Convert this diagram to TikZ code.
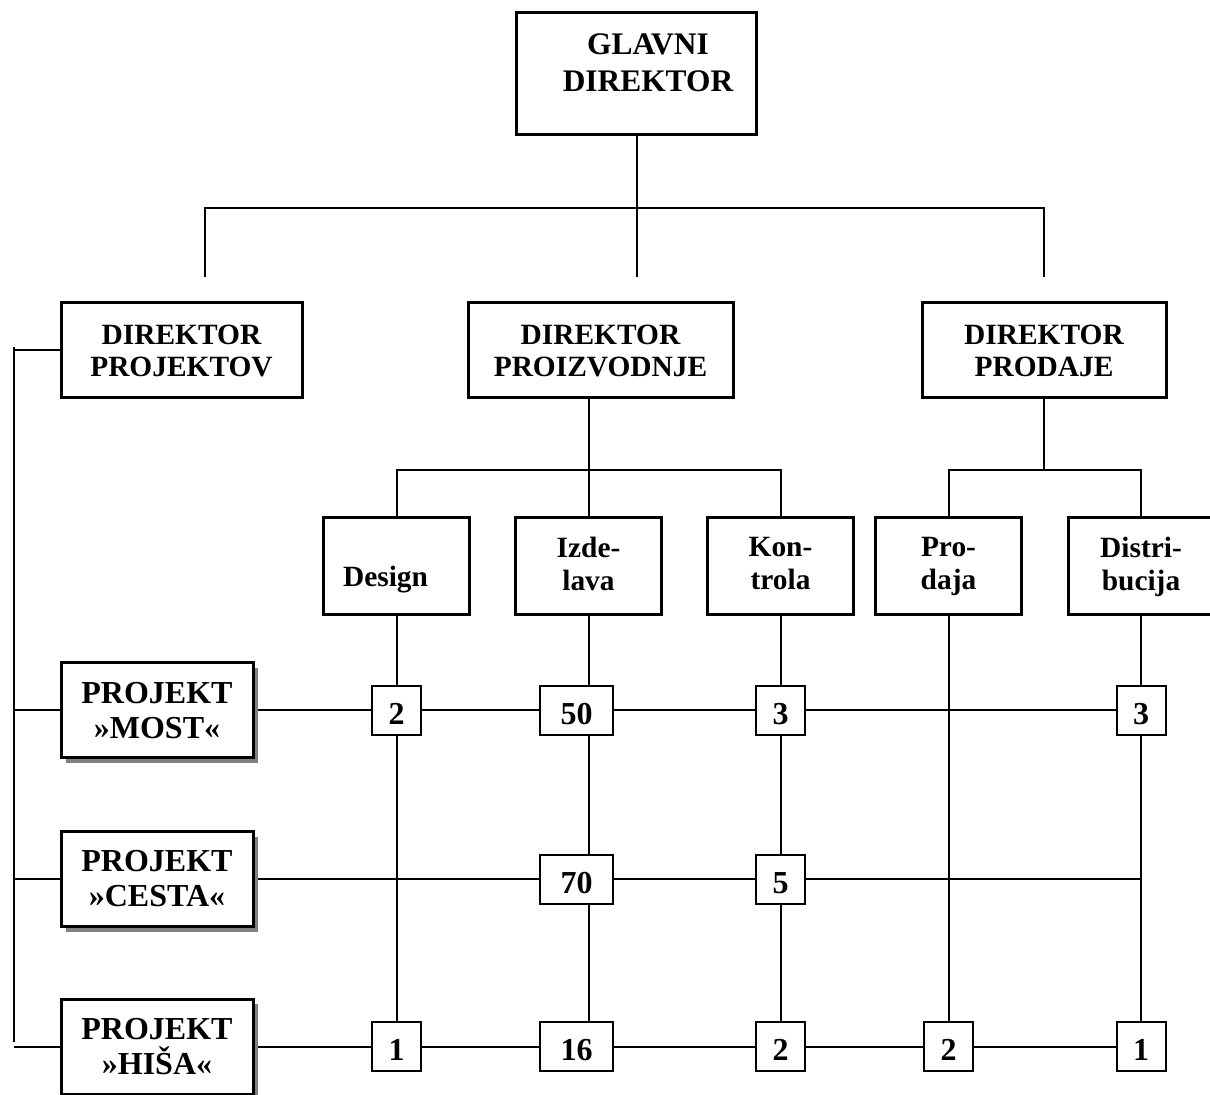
\documentclass[tikz,border=0pt]{standalone}
\usepackage{fontspec}
\setmainfont{Liberation Serif}
\usetikzlibrary{backgrounds,shadows}

\begin{document}
\begin{tikzpicture}[x=0.5pt,y=-0.5pt,
	box/.style={draw,line width=1.5pt,fill=white,inner sep=0pt,align=center,font=\bfseries\fontsize{14.7}{16}\selectfont},
	chef/.style={box,minimum width=120pt,minimum height=61pt},
	dir/.style={box,minimum height=47.5pt},
	oddelek/.style={box,minimum width=73pt,minimum height=48.5pt,text depth=3pt,font=\bfseries\fontsize{14.7}{16.5}\selectfont},
	proj/.style={box,minimum width=96pt,minimum height=47.5pt,font=\bfseries\fontsize{16}{17.5}\selectfont,
		drop shadow={shadow xshift=2.5pt,shadow yshift=-2.5pt,fill=black!50,opacity=1}},
	num/.style={draw,line width=1pt,fill=white,inner sep=0pt,minimum width=24.5pt,minimum height=24.5pt,
		text height=14.3pt,text depth=0pt,font=\bfseries\fontsize{16}{18}\selectfont},
	num2/.style={num,minimum width=36.5pt},
	conn/.style={line width=1pt},
	]
	\useasboundingbox (0,0) rectangle (1210,1095);
	
	% glavni direktor
	\node[chef] (glavni) at (636.5,74) {};
	\node[font=\bfseries\fontsize{15.7}{18.5}\selectfont,align=center] (glavni-txt) at ([xshift=5.75pt,yshift=5.5pt]glavni.center) {GLAVNI\\DIREKTOR};
	
	% direktorji
	\node[dir,minimum width=120.5pt] (dproj) at (181.5,350.5) {DIREKTOR\\PROJEKTOV};
	\node[dir,minimum width=132.5pt] (dproizv) at (600.5,350.5) {DIREKTOR\\PROIZVODNJE};
	\node[dir,minimum width=122pt] (dprod) at (1044,350.5) {DIREKTOR\\PRODAJE};
	
	% oddelki
	\node[oddelek,text height=20.5pt,text depth=0pt] (design) at (396.5,566.5) {Design\kern11pt};
	\node[oddelek] (izdelava) at (588.5,566.5) {Izde-\\lava};
	\node[oddelek] (kontrola) at (780.5,566.5) {Kon-\\trola};
	\node[oddelek] (prodaja) at (948.5,566.5) {Pro-\\daja};
	\node[oddelek] (distrib) at (1141,566.5) {Distri-\\bucija};
	
	% projekti
	\node[proj] (most) at (157,710.5) {PROJEKT\\»MOST«};
	\node[proj] (cesta) at (157,879) {PROJEKT\\»CESTA«};
	\node[proj] (hisa) at (157,1046.5) {PROJEKT\\»HIŠA«};
	
	% stevilo ljudi
	\node[num] (most-des) at (396.5,710.5) {2};
	\node[num2] (most-izd) at (576.5,710.5) {50};
	\node[num] (most-kon) at (780.5,710.5) {3};
	\node[num] (most-dis) at (1141,710.5) {3};
	\node[num2] (cesta-izd) at (576.5,879) {70};
	\node[num] (cesta-kon) at (780.5,879) {5};
	\node[num] (hisa-des) at (396.5,1046.5) {1};
	\node[num2] (hisa-izd) at (576.5,1046.5) {16};
	\node[num] (hisa-kon) at (780.5,1046.5) {2};
	\node[num] (hisa-pro) at (948.5,1046.5) {2};
	\node[num] (hisa-dis) at (1141,1046.5) {1};
	
	% linija vodenja
	\coordinate (bus1) at (636.5,208);
	\coordinate (k1) at (205,277);
	\coordinate (k2) at (636.5,277);
	\coordinate (k3) at (1044,277);
	\draw[conn] (glavni.south) -- (k2);
	\draw[conn] (k1) |- (bus1) -| (k3);
	
	\coordinate (bus2) at (588.5,470);
	\draw[conn] (dproizv.south -| izdelava) -- (izdelava.north);
	\draw[conn] (design.north) |- (bus2) -| (kontrola.north);
	
	\coordinate (bus3) at (1044,470);
	\draw[conn] (dprod.south) -- (bus3);
	\draw[conn] (prodaja.north) |- (bus3) -| (distrib.north);
	
	% levi oklepaj
	\coordinate (ok-top) at (14,347);
	\coordinate (ok-bot) at (14,1042);
	\draw[conn] (ok-top) -- (ok-bot);
	\draw[conn] (ok-top |- dproj) -- (dproj.west);
	\draw[conn] (ok-top |- most) -- (most.west);
	\draw[conn] (ok-top |- cesta) -- (cesta.west);
	\draw[conn] (ok-top |- hisa) -- (hisa.west);
	
	% matrika
	\begin{scope}[on background layer]
		\draw[conn] (design.south) -- (hisa-des);
		\draw[conn] (izdelava.south) -- (izdelava.south |- hisa-izd);
		\draw[conn] (kontrola.south) -- (hisa-kon);
		\draw[conn] (prodaja.south) -- (hisa-pro);
		\draw[conn] (distrib.south) -- (hisa-dis);
		\draw[conn] (most.east) -- (most-dis);
		\draw[conn] (cesta.east) -- (cesta.east -| distrib);
		\draw[conn] (hisa.east) -- (hisa-dis);
	\end{scope}
\end{tikzpicture}
\end{document}
